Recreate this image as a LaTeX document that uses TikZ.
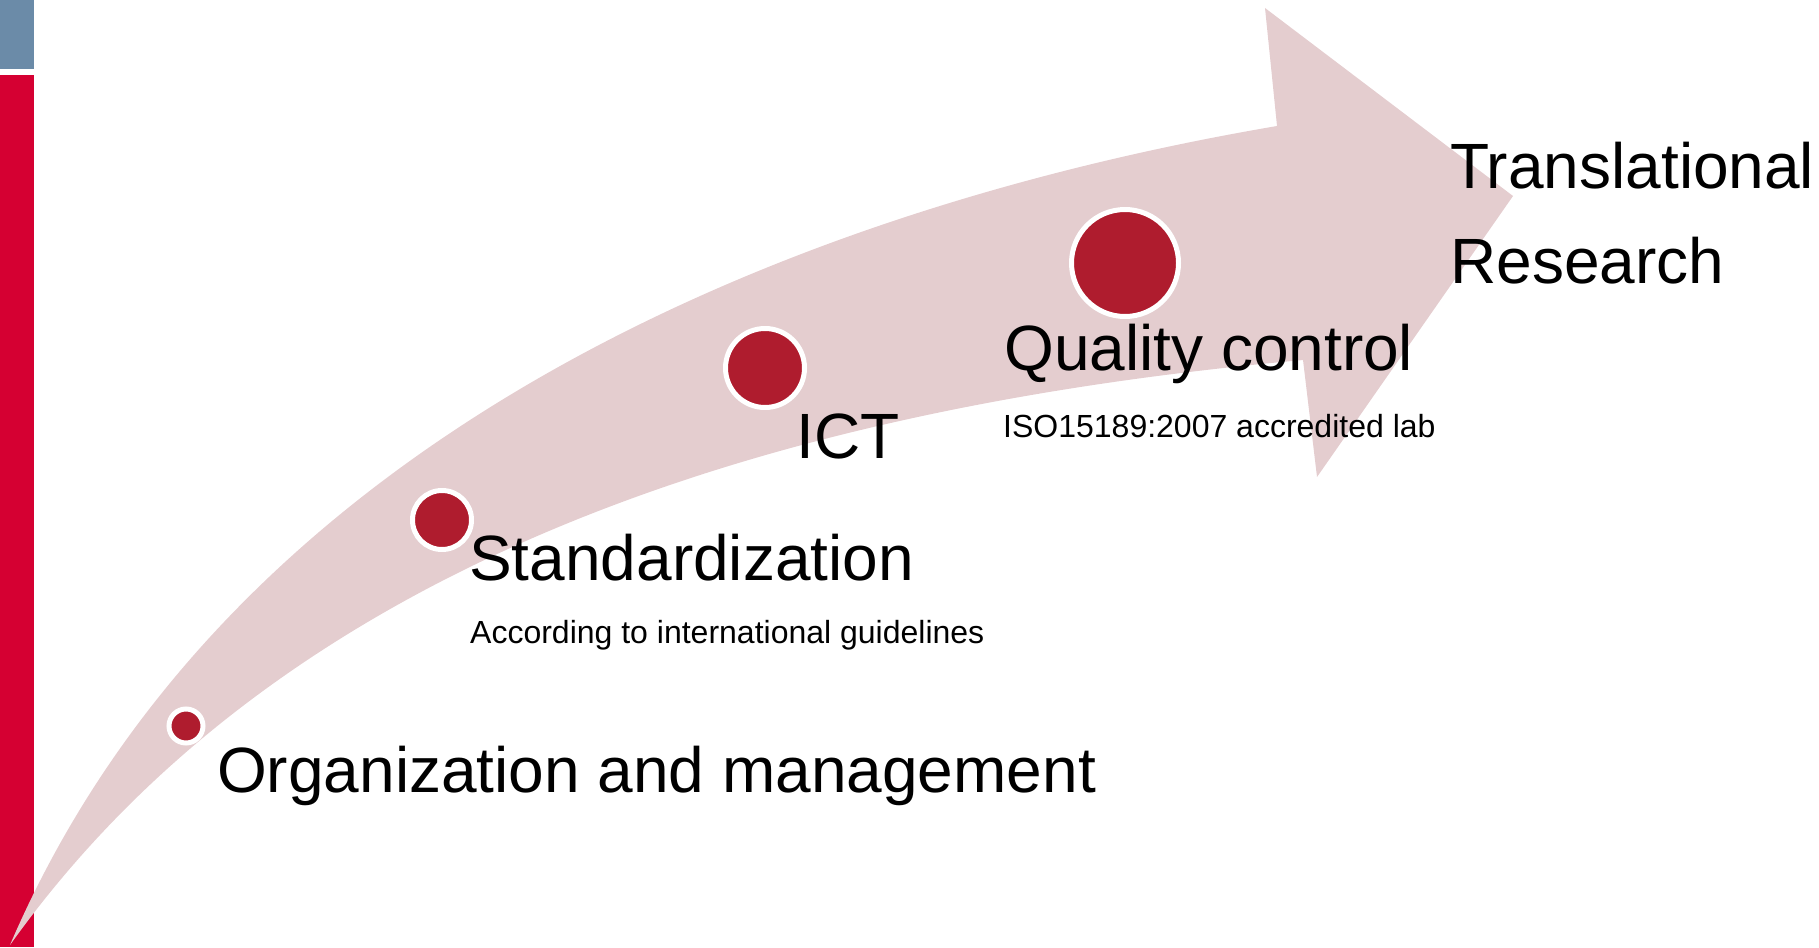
\documentclass[tikz,border=0pt]{standalone}
\usepackage{fontspec}
\setmainfont{Liberation Sans}
\usetikzlibrary{positioning,calc}
\definecolor{barblue}{RGB}{107,139,168}
\definecolor{barred}{RGB}{213,0,50}
\definecolor{arrowpink}{RGB}{228,205,207}
\definecolor{dotred}{RGB}{175,28,46}

\begin{document}
\begin{tikzpicture}[x=1pt,y=-1pt,
            dot/.style={circle, fill=dotred, draw=white, line width=5pt, inner sep=0pt},
            biglabel/.style={anchor=base west, inner sep=0pt, font=\fontsize{64}{77}\selectfont},
            smalllabel/.style={anchor=base west, inner sep=0pt, font=\fontsize{32}{38}\selectfont}]

            \useasboundingbox (0,0) rectangle (1819,947);
            \fill[barblue] (0,0) rectangle (34,69);
            \fill[barred] (0,75) rectangle (34,947);

            \fill[arrowpink] (10,945) .. controls (224,446) and (772,212) .. (1277,126)
                -- (1265,8) -- (1513,196) -- (1317,477) -- (1303,360)
                .. controls (827,403) and (302,536) .. (10,945) -- cycle;

            \node [dot,minimum size=34pt] (d1) at (186,726) {};
            \node [dot,minimum size=59pt] (d2) at (442,520) {};
            \node [dot,minimum size=79pt] (d3) at (765,368) {};
            \node [dot,minimum size=107pt] (d4) at (1125,263) {};

            \node [biglabel] (org) at (217,792) {Organization and management};
            \node [biglabel] (std) at (469,580) {Standardization};
            \node [smalllabel] (stdsub) at ($(std.base west)+(1,63)$) {According to international guidelines};
            \node [biglabel] (ict) at (796,458) {ICT};
            \node [biglabel] (qc) at (1004,370) {Quality control};
            \node [smalllabel] (qcsub) at ($(qc.base west)+(-1,67)$) {ISO15189:2007 accredited lab};
            \node [biglabel] (trans) at (1450,188) {Translational};
            \node [biglabel] (res) at ($(trans.base west)+(0,95)$) {Research};
        \end{tikzpicture}
\end{document}
